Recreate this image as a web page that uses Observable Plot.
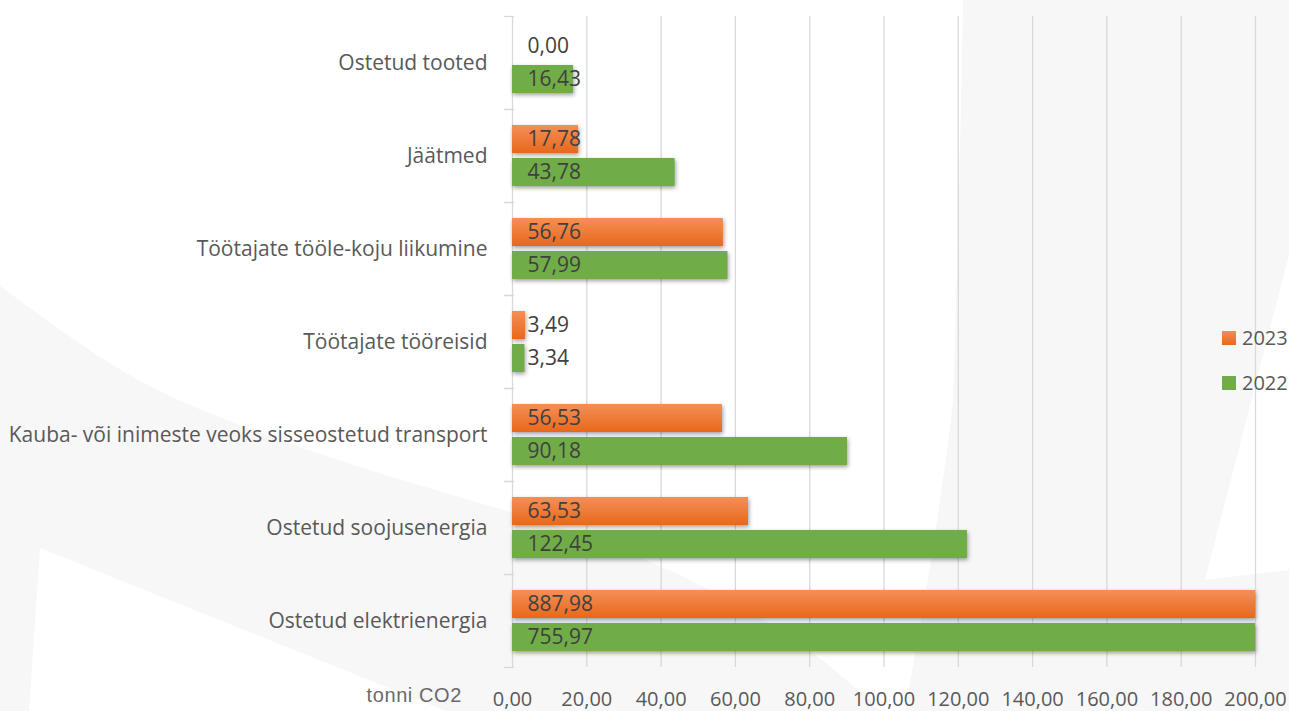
<!DOCTYPE html>
<html>
<head>
<meta charset="utf-8">
<script src="https://cdn.jsdelivr.net/npm/d3@7"></script>
<script src="https://cdn.jsdelivr.net/npm/@observablehq/plot@0.6"></script>
<style>
  html, body { margin: 0; padding: 0; background: #ffffff; overflow: hidden; }
  #wrap { position: relative; width: 1289px; height: 711px; font-family: "Segoe UI", "Open Sans", "Noto Sans", sans-serif; }
  #bg { position: absolute; left: 0; top: 0; }
  #chart { position: absolute; left: 0; top: 0; }
  #chart g[aria-label="bar"] rect { filter: drop-shadow(1.5px 2.5px 2px rgba(0,0,0,0.38)); }
  .axis-title { position: absolute; right: calc(1289px - 462px); top: 684px; font-family: "Liberation Sans", Arial, sans-serif; font-size: 20px; letter-spacing: 0.6px; color: #6a6a6a; white-space: nowrap; }
  .legend { position: absolute; left: 1222px; font-size: 20px; color: #595959; white-space: nowrap; display: flex; align-items: center; }
  .legend .sw { width: 14px; height: 14px; margin-right: 6px; }
</style>
</head>
<body>
<div id="wrap">
  <svg id="bg" width="1289" height="711" viewBox="0 0 1289 711">
    <path fill="#f7f7f7" d="M0,286 C60,330 120,375 179,400 C280,445 400,480 504,510 C640,550 780,610 880,711 L446,711 L40,548 L29,711 L0,711 Z"/>
    <path fill="#f7f7f7" d="M963,0 L1289,0 L1289,255 L1205,580 L1289,570 L1289,711 L905,711 C925,600 945,480 953,400 C958,250 961,120 963,0 Z"/>
  </svg>
  <div id="chart"></div>
  <div class="axis-title" id="axisTitle"></div>
  <div id="legend"></div>
</div>
<script>
// ---- data ----
const categories = [
  "Ostetud tooted",
  "Jäätmed",
  "Töötajate tööle-koju liikumine",
  "Töötajate tööreisid",
  "Kauba- või inimeste veoks sisseostetud transport",
  "Ostetud soojusenergia",
  "Ostetud elektrienergia"
];
const series = ["2023", "2022"];
const values2023 = [0.00, 17.78, 56.76, 3.49, 56.53, 63.53, 887.98];
const values2022 = [16.43, 43.78, 57.99, 3.34, 90.18, 122.45, 755.97];
const xTicks = [0, 20, 40, 60, 80, 100, 120, 140, 160, 180, 200];
const axisTitle = "tonni CO2";
const seriesColors = ["url(#gradOrange)", "#70ad47"];
const legendColors = ["linear-gradient(#f38d55, #e8691a)", "#70ad47"];

// ---- build table ----
const data = categories.flatMap((c, i) => [
  {category: c, year: series[0], value: values2023[i]},
  {category: c, year: series[1], value: values2022[i]}
]);
const fmt = v => v.toFixed(2).replace(".", ",");

const plot = Plot.plot({
  width: 1289,
  height: 711,
  marginLeft: 512,
  marginRight: 34,
  marginTop: 14,
  marginBottom: 43,
  style: {background: "transparent", fontFamily: "'Segoe UI', 'Open Sans', 'Noto Sans', sans-serif", overflow: "visible"},
  x: {domain: [0, 200], clamp: true, axis: null},
  y: {domain: series, axis: null, paddingInner: 0.16, paddingOuter: 0.46},
  fy: {domain: categories, padding: 0, axis: null},
  color: {domain: series, range: seriesColors},
  marks: [
    Plot.ruleX(xTicks, {stroke: "#d9d9d9", strokeWidth: 1.3}),
    Plot.frame({anchor: "top", stroke: "#d9d9d9", strokeWidth: 1.3, insetLeft: -8, insetRight: 742}),
    Plot.frame({anchor: "bottom", stroke: "#d9d9d9", strokeWidth: 1.3, insetLeft: -8, insetRight: 742}),
    Plot.barX(data, {fy: "category", y: "year", x: "value", fill: "year"}),
    Plot.text(data, {fy: "category", y: "year", text: d => fmt(d.value), frameAnchor: "left", dx: 15, textAnchor: "start", fill: "#404040", fontSize: 21}),
    Plot.axisFy({anchor: "left", label: null, tickSize: 0, tickPadding: 25, fontSize: 21, fill: "#595959"}),
    Plot.axisX({ticks: xTicks, label: null, tickFormat: fmt, tickSize: 0, tickPadding: 24, fontSize: 20, fill: "#595959"})
  ]
});

d3.select(plot).insert("defs", ":first-child").html(
  '<linearGradient id="gradOrange" x1="0" y1="0" x2="0" y2="1">' +
  '<stop offset="0" stop-color="#f48f58"/>' +
  '<stop offset="1" stop-color="#e8681a"/>' +
  '</linearGradient>'
);

document.getElementById("chart").appendChild(plot);
document.getElementById("axisTitle").textContent = axisTitle;

const legend = d3.select("#legend");
series.forEach((s, i) => {
  const item = legend.append("div").attr("class", "legend").style("top", (i === 0 ? 324 : 369) + "px");
  item.append("div").attr("class", "sw").style("background", legendColors[i]);
  item.append("span").text(s);
});
</script>
</body>
</html>
